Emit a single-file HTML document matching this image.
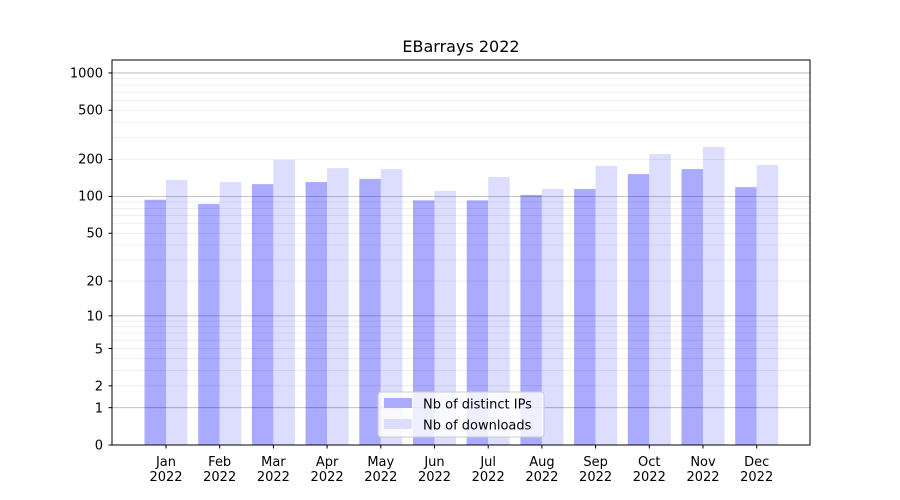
<!DOCTYPE html>
<html><head><meta charset="utf-8"><style>
html,body{margin:0;padding:0;background:#fff}
svg{display:block;font-family:"DejaVu Sans","Liberation Sans",sans-serif}
</style></head><body>
<svg id="s" width="900" height="500" viewBox="0 0 900 500" xmlns="http://www.w3.org/2000/svg">
<rect width="900" height="500" fill="#fff"/>
<g id="bars"></g>
<g id="grid"></g>
<rect x="112" y="60" width="698" height="385" fill="none" stroke="#000" stroke-width="1"/>
<text x="461" y="52" font-size="16" text-anchor="middle">EBarrays 2022</text>
<g font-size="13" text-anchor="end">
<text x="103" y="449.5">0</text>
<text x="103" y="412.5">1</text>
<text x="103" y="390.5">2</text>
<text x="103" y="353.5">5</text>
<text x="103" y="320.5">10</text>
<text x="103" y="285.5">20</text>
<text x="103" y="237.5">50</text>
<text x="103" y="200.5">100</text>
<text x="103" y="163.5">200</text>
<text x="103" y="114.5">500</text>
<text x="103" y="77.5">1000</text>
</g>
<g id="ticks" stroke="#000"></g>
<g id="xl" font-size="13" text-anchor="middle"></g>
<g>
<rect x="378" y="392" width="166" height="45" rx="3" fill="#fff" fill-opacity="0.8" stroke="#ccc"/>
<rect x="384" y="398" width="28" height="10" fill="#aaaaff"/>
<rect x="384" y="419" width="28" height="10" fill="#ddddff"/>
<text x="423" y="408.5" font-size="13">Nb of distinct IPs</text>
<text x="423" y="429.5" font-size="13">Nb of downloads</text>
</g>
</svg>
<script>
var NS="http://www.w3.org/2000/svg";
function el(p,t,a){var e=document.createElementNS(NS,t);for(var k in a)e.setAttribute(k,a[k]);document.getElementById(p).appendChild(e);return e;}
function Y(v){return 445-124*Math.log10(1+v);}
var majors=[1,10,100,1000];
for(var d=1;d<=100;d*=10){for(var m=2;m<=9;m++){var y=Y(m*d);el("grid","line",{x1:112,x2:810,y1:y,y2:y,stroke:"#000","stroke-opacity":0.08,"stroke-width":0.8});}}
majors.forEach(function(v){var y=Y(v);el("grid","line",{x1:112,x2:810,y1:y,y2:y,stroke:"#000","stroke-opacity":0.3,"stroke-width":0.8});});
[0,1,2,5,10,20,50,100,200,500,1000].forEach(function(v){var y=Y(v);el("ticks","line",{x1:108.5,x2:112,y1:y,y2:y});});
var a=[94,87,126,131,139,93,93,103,115,152,167,119];
var b=[136,131,198,170,167,111,144,115,177,221,252,180];
var mo=["Jan","Feb","Mar","Apr","May","Jun","Jul","Aug","Sep","Oct","Nov","Dec"];
for(var i=0;i<12;i++){var c=166+i*53.7;
var ya=Y(a[i]),yb=Y(b[i]);
el("bars","rect",{x:c-21.5,y:ya,width:21.5,height:445-ya,fill:"#aaaaff"});
el("bars","rect",{x:c,y:yb,width:21.5,height:445-yb,fill:"#ddddff"});
el("ticks","line",{x1:c,x2:c,y1:445,y2:448.5});
var t=el("xl","text",{x:c,y:466});t.textContent=mo[i];
var t2=el("xl","text",{x:c,y:481});t2.textContent="2022";}
</script>
</body></html>
